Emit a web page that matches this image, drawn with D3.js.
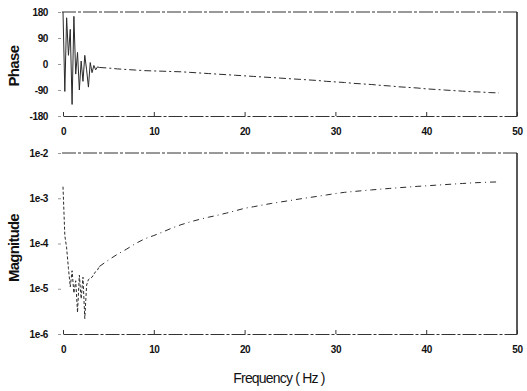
<!DOCTYPE html>
<html>
<head>
<meta charset="utf-8">
<script src="https://cdn.jsdelivr.net/npm/d3@7"></script>
<style>
  html, body { margin: 0; padding: 0; background: #fff; }
  svg { display: block; }
  .tick text { font-family: "Liberation Sans", Arial, sans-serif; font-weight: bold; font-size: 10px; fill: #111; letter-spacing: -0.4px; }
  .title { font-family: "Liberation Sans", Arial, sans-serif; fill: #111; }
</style>
</head>
<body>
<svg id="chart" width="527" height="391"></svg>
<script>
// Frequency axis ticks (Hz)
const freqTicks = [0, 10, 20, 30, 40, 50];
// Phase axis ticks (degrees)
const phaseTicks = [180, 90, 0, -90, -180];
// Magnitude axis ticks (log scale)
const magTicks = [1e-2, 1e-3, 1e-4, 1e-5, 1e-6];
const magTickLabels = ["1e-2", "1e-3", "1e-4", "1e-5", "1e-6"];

// Phase response
const phaseFreq = [0, 0.2, 0.4, 0.6, 0.8, 1.0, 1.2, 1.4, 1.6, 1.8, 2.0, 2.2, 2.4, 2.6, 2.8, 3.0, 3.2, 3.4, 3.6, 3.8, 4.0,
  5, 6, 7, 8, 9, 10, 11, 12, 13, 14, 15, 16, 17, 18, 19, 20, 21, 22, 23, 24, 25, 26, 27, 28, 29, 30,
  31, 32, 33, 34, 35, 36, 37, 38, 39, 40, 41, 42, 43, 44, 45, 46, 47, 48];
const phaseDeg = [180, -95, 160, 30, 120, -140, 165, -35, 40, -90, 10, -60, 30, -20, -80, 5, -30, -5, -20, -10, -12,
  -14, -17, -19, -21, -23, -24, -25, -26, -27, -29, -31, -33, -35, -37, -39, -41, -43, -45, -47, -49, -51, -53, -55, -57, -60, -62,
  -64, -67, -69, -71, -74, -76, -79, -81, -83, -86, -88, -90, -92, -94, -96, -97, -99, -100];

// Magnitude response
const magFreq = [0, 0.2, 0.4, 0.6, 0.8, 1.0, 1.2, 1.4, 1.6, 1.8, 2.0, 2.2, 2.4, 2.6, 2.8, 3.0, 3.2, 3.4, 3.6, 3.8, 4.0,
  5, 6, 7, 8, 9, 10, 11, 12, 13, 14, 15, 16, 17, 18, 19, 20, 21, 22, 23, 24, 25, 26, 27, 28, 29, 30,
  31, 32, 33, 34, 35, 36, 37, 38, 39, 40, 41, 42, 43, 44, 45, 46, 47, 48];
const magVal = [1.8e-3, 1.5e-4, 8e-5, 2.8e-5, 1.1e-5, 2.5e-5, 8e-6, 1.5e-5, 3e-6, 2e-5, 6e-6, 1.8e-5, 2.2e-6, 1.2e-5, 1.6e-5, 1.7e-5, 1.8e-5, 2.1e-5, 2.4e-5, 2.6e-5, 3.1e-5,
  4.3e-5, 5.8e-5, 7.5e-5, 1e-4, 1.27e-4, 1.5e-4, 1.8e-4, 2.2e-4, 2.6e-4, 3e-4, 3.4e-4, 3.8e-4, 4.2e-4, 4.7e-4, 5.3e-4, 6e-4, 6.5e-4, 7.1e-4, 7.7e-4, 8.3e-4, 8.9e-4, 9.6e-4, 1.03e-3, 1.1e-3, 1.18e-3, 1.27e-3,
  1.35e-3, 1.41e-3, 1.47e-3, 1.53e-3, 1.59e-3, 1.65e-3, 1.71e-3, 1.77e-3, 1.83e-3, 1.88e-3, 1.94e-3, 2.0e-3, 2.06e-3, 2.12e-3, 2.18e-3, 2.23e-3, 2.27e-3, 2.3e-3];

const svg = d3.select("#chart");
const left = 63, right = 517;

const x = d3.scaleLinear().domain([0, 50]).range([left, right]);
const yPhase = d3.scaleLinear().domain([-180, 180]).range([116, 12]);
const yMag = d3.scaleLog().domain([1e-6, 1e-2]).range([334, 153]);

const lineColor = "#2a2a2a";

function panel(yScale, yTickVals, yTickFmt, freqs, vals, noiseDash, trendDash) {
  const [yBot, yTop] = yScale.range();
  const g = svg.append("g");

  // frame: dashed top edge, solid right edge
  g.append("line").attr("x1", left - 1).attr("x2", right).attr("y1", yTop).attr("y2", yTop)
    .attr("stroke", "#333").attr("stroke-width", 1).attr("stroke-dasharray", "14,2,3,2");
  g.append("line").attr("x1", right).attr("x2", right).attr("y1", yTop).attr("y2", yBot)
    .attr("stroke", "#222").attr("stroke-width", 1.5);

  // bottom axis: ticks point into the plot
  const xa = g.append("g").attr("transform", `translate(0,${yBot})`)
    .call(d3.axisBottom(x).tickValues(freqTicks).tickSize(-4).tickPadding(12).tickSizeOuter(0));
  xa.select(".domain").attr("stroke", "#333").attr("stroke-dasharray", "14,2,3,2");
  xa.selectAll(".tick line").attr("stroke", "#333");

  // left axis: labels only with short outward ticks
  const ya = g.append("g").attr("transform", `translate(${left - 2},0)`)
    .call(d3.axisLeft(yScale).tickValues(yTickVals).tickFormat(yTickFmt).tickSize(3).tickPadding(10).tickSizeOuter(0));
  ya.select(".domain").remove();
  ya.selectAll(".tick line").attr("stroke", "#999");

  const idx = d3.range(vals.length);
  const split = freqs.indexOf(4.0);
  const path = d3.line().x(i => x(freqs[i])).y(i => yScale(vals[i]));

  // noisy low-frequency part
  g.append("path")
    .datum(idx.slice(0, split + 1))
    .attr("d", path)
    .attr("fill", "none").attr("stroke", lineColor).attr("stroke-width", 1)
    .attr("stroke-dasharray", noiseDash);
  // smooth trend
  g.append("path")
    .datum(idx.slice(split))
    .attr("d", path)
    .attr("fill", "none").attr("stroke", lineColor).attr("stroke-width", 1)
    .attr("stroke-dasharray", trendDash);
}

panel(yPhase, phaseTicks, d => String(d), phaseFreq, phaseDeg, null, "7,3,2,3");
panel(yMag, magTicks, (d, i) => magTickLabels[i], magFreq, magVal, "3,2", "6,4,1,4");

// axis titles
svg.append("text").attr("class", "title")
  .attr("transform", "translate(19,66) rotate(-90)")
  .attr("text-anchor", "middle").attr("font-size", 15).attr("font-weight", "bold")
  .attr("letter-spacing", "-0.6").text("Phase");
svg.append("text").attr("class", "title")
  .attr("transform", "translate(19,248) rotate(-90)")
  .attr("text-anchor", "middle").attr("font-size", 15).attr("font-weight", "bold")
  .attr("letter-spacing", "-0.8").text("Magnitude");
svg.append("text").attr("class", "title")
  .attr("x", 279).attr("y", 383)
  .attr("text-anchor", "middle").attr("font-size", 14)
  .attr("letter-spacing", "-0.8").text("Frequency ( Hz )");
</script>
</body>
</html>
